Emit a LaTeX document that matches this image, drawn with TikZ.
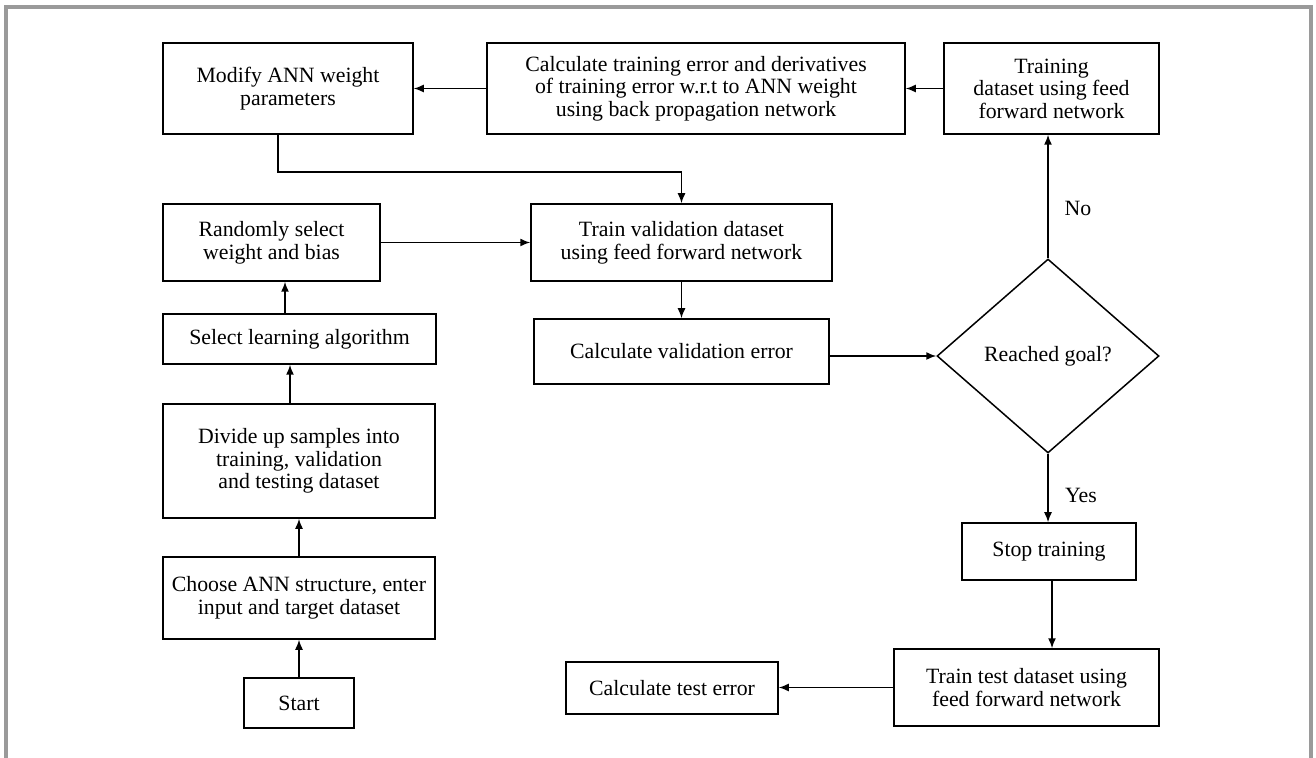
\documentclass[tikz,border=0pt]{standalone}
\usepackage{fontspec}
\setmainfont{Liberation Serif}
\usetikzlibrary{shapes.geometric,arrows.meta}
\definecolor{framegray}{HTML}{9A9A9A}
\begin{document}
\begin{tikzpicture}[x=0.5pt,y=-0.5pt,
  every node/.style={font=\fontsize{10.9pt}{11.3pt}\selectfont},
  bx/.style 2 args={draw=black,line width=0.75pt,rectangle,inner sep=0pt,
     minimum width=#1*0.5pt,minimum height=#2*0.5pt,align=center},
  dmd/.style 2 args={draw=black,line width=0.75pt,diamond,inner sep=0pt,
     minimum width=#1*0.5pt,minimum height=#2*0.5pt,align=center},
  arr/.style={line width=0.75pt,-{Latex[length=5pt,width=4pt]}},
  lbl/.style={inner sep=0pt}]
\useasboundingbox (0,0) rectangle (1316,758);
% frame
\draw[framegray,line width=2pt,line join=miter] (6,758) -- (6,7.5) -- (1311,7.5) -- (1311,758);
% nodes
\node[bx={250}{91}] (modify) at (288,88.5) {Modify ANN weight\\parameters};
\node[bx={418}{91}] (calctrain) at (696,88.5) {Calculate training error and derivatives\\of training error w.r.t to ANN weight\\using back propagation network};
\node[bx={215}{91}] (training) at (1051.5,88.5) {Training\\dataset using feed\\forward network};
\node[bx={217}{77}] (randomly) at (271.5,242.5) {Randomly select\\weight and bias};
\node[bx={273}{50}] (select) at (299.5,339) {Select learning algorithm};
\node[bx={272}{114}] (divide) at (299,461) {Divide up samples into\\training, validation\\and testing dataset};
\node[bx={272}{82}] (choose) at (299,598) {Choose ANN structure, enter\\input and target dataset};
\node[bx={110}{50}] (start) at (299,703) {Start};
\node[bx={301}{77}] (trainval) at (681.5,242.5) {Train validation dataset\\using feed forward network};
\node[bx={295}{65}] (calcval) at (681.5,351.5) {Calculate validation error};
\node[dmd={222}{194}] (dm) at (1048,356) {Reached goal?};
\node[bx={174}{57}] (stop) at (1049,551.5) {Stop training};
\node[bx={265}{77}] (traintest) at (1026.5,687.5) {Train test dataset using\\feed forward network};
\node[bx={212}{52}] (calctest) at (672,688) {Calculate test error};
\node[lbl] (nolbl) at (1078,208) {No};
\node[lbl] (yeslbl) at (1081,495) {Yes};
% helper coordinates
\coordinate (m1) at (278,172);
\coordinate (c1) at (290,0);
\coordinate (c2) at (285,0);
\coordinate (s1) at (1052,0);
% connectors
\draw[arr] (start.north) -- (choose.south);
\draw[arr] (choose.north) -- (divide.south);
\draw[arr] (divide.north -| c1) -- (select.south -| c1);
\draw[arr] (select.north -| c2) -- (randomly.south -| c2);
\draw[arr] (randomly.east) -- (trainval.west);
\draw[arr] (modify.south -| m1) -- (m1) -| (trainval.north);
\draw[arr] (trainval.south) -- (calcval.north);
\draw[arr] (calcval.east |- dm.west) -- (dm.west);
\draw[arr] (dm.north) -- (training.south -| dm.north);
\draw[arr] (training.west) -- (calctrain.east);
\draw[arr] (calctrain.west) -- (modify.east);
\draw[arr] (dm.south) -- (stop.north -| dm.south);
\draw[arr] (stop.south -| s1) -- (traintest.north -| s1);
\draw[arr] (traintest.west) -- (calctest.east |- traintest.west);
\end{tikzpicture}
\end{document}
